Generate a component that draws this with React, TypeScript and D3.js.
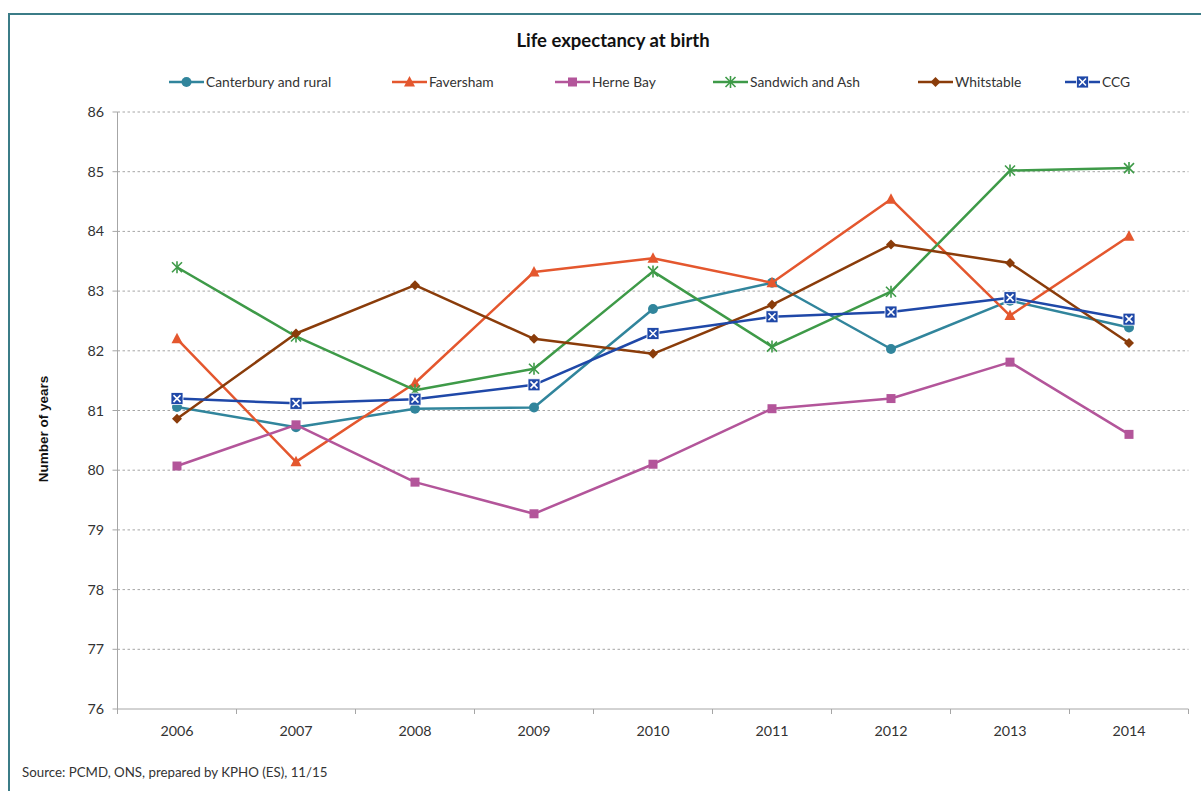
import React from "react";
import * as d3 from "d3";

const years = ["2006", "2007", "2008", "2009", "2010", "2011", "2012", "2013", "2014"];
const canterbury = [81.06, 80.72, 81.03, 81.05, 82.7, 83.14, 82.03, 82.84, 82.39];
const faversham = [82.2, 80.14, 81.46, 83.32, 83.55, 83.14, 84.54, 82.59, 83.92];
const herneBay = [80.07, 80.76, 79.8, 79.27, 80.1, 81.03, 81.2, 81.81, 80.6];
const sandwich = [83.4, 82.24, 81.34, 81.7, 83.33, 82.07, 82.99, 85.02, 85.06];
const whitstable = [80.86, 82.29, 83.1, 82.2, 81.95, 82.77, 83.78, 83.47, 82.13];
const ccg = [81.2, 81.12, 81.19, 81.43, 82.29, 82.57, 82.65, 82.89, 82.53];
const yTicks = [76, 77, 78, 79, 80, 81, 82, 83, 84, 85, 86];

const seriesNames = ["Canterbury and rural", "Faversham", "Herne Bay", "Sandwich and Ash", "Whitstable", "CCG"];
const seriesValues = [canterbury, faversham, herneBay, sandwich, whitstable, ccg];
const seriesColors = ["#31859C", "#E4572E", "#B3559A", "#3E9A48", "#8A3C0A", "#1F48A8"];
const seriesMarkers = ["circle", "triangle", "square", "star", "diamond", "xsquare"];
const legendX = [169, 392, 555, 713, 918, 1065];

const FONT = "Lato, 'Open Sans', sans-serif";

function Marker({ type, x, y, color }: { type: string; x: number; y: number; color: string }) {
  switch (type) {
    case "circle":
      return <circle cx={x} cy={y} r={5} fill={color} />;
    case "triangle":
      return <path d={`M${x},${y - 6}L${x + 5.5},${y + 4.5}L${x - 5.5},${y + 4.5}Z`} fill={color} />;
    case "square":
      return <rect x={x - 4.5} y={y - 4.5} width={9} height={9} fill={color} />;
    case "diamond":
      return <path d={`M${x},${y - 5}L${x + 5},${y}L${x},${y + 5}L${x - 5},${y}Z`} fill={color} />;
    case "star":
      return (
        <g stroke={color} strokeWidth={1.6}>
          <line x1={x - 5} y1={y - 5} x2={x + 5} y2={y + 5} />
          <line x1={x - 5} y1={y + 5} x2={x + 5} y2={y - 5} />
          <line x1={x} y1={y - 6} x2={x} y2={y + 6} />
        </g>
      );
    case "xsquare":
      return (
        <g>
          <rect x={x - 6} y={y - 6} width={12} height={12} fill={color} stroke="#fff" strokeWidth={0.8} />
          <line x1={x - 3.5} y1={y - 3.5} x2={x + 3.5} y2={y + 3.5} stroke="#fff" strokeWidth={1.6} />
          <line x1={x - 3.5} y1={y + 3.5} x2={x + 3.5} y2={y - 3.5} stroke="#fff" strokeWidth={1.6} />
        </g>
      );
    default:
      return null;
  }
}

export default function App() {
  const W = 1201;
  const H = 791;
  const left = 117.5;
  const right = 1188.5;
  const top = 112;
  const bottom = 709;

  const x = d3.scaleBand<string>().domain(years).range([left, right]).padding(0);
  const y = d3.scaleLinear().domain([76, 86]).range([bottom, top]);
  const cx = (yr: string) => (x(yr) as number) + x.bandwidth() / 2;
  const line = d3
    .line<number>()
    .x((_, i) => cx(years[i]))
    .y((d) => y(d));

  const boundaries = d3.range(years.length + 1).map((i) => left + i * x.bandwidth());

  return (
    <div style={{ position: "absolute", left: 0, top: 0 }}>
      <svg width={W} height={H} style={{ display: "block", background: "#fff" }}>
        <rect x={0} y={0} width={W} height={H} fill="#fff" />
        {/* border */}
        <line x1={9} y1={14} x2={W} y2={14} stroke="#3B7C87" strokeWidth={2} />
        <line x1={9} y1={13} x2={9} y2={H} stroke="#3B7C87" strokeWidth={2} />

        <text x={613} y={47} textAnchor="middle" fontFamily={FONT} fontWeight="bold" fontSize={18.5} fill="#111">
          Life expectancy at birth
        </text>

        {/* legend */}
        {seriesNames.map((name, i) => (
          <g key={name}>
            <line x1={legendX[i]} y1={82} x2={legendX[i] + 35} y2={82} stroke={seriesColors[i]} strokeWidth={2.5} />
            <Marker type={seriesMarkers[i]} x={legendX[i] + 17.5} y={82} color={seriesColors[i]} />
            <text x={legendX[i] + 37} y={87} fontFamily={FONT} fontSize={13.8} fill="#333">
              {name}
            </text>
          </g>
        ))}

        {/* gridlines */}
        {yTicks.filter((t) => t !== 76).map((t) => (
          <line key={t} x1={left} x2={right} y1={y(t)} y2={y(t)} stroke="#A6A6A6" strokeWidth={1} strokeDasharray="2.5,2.5" />
        ))}

        {/* axes */}
        <line x1={left} x2={left} y1={top} y2={bottom} stroke="#A6A6A6" strokeWidth={1} />
        <line x1={left} x2={right} y1={bottom} y2={bottom} stroke="#A6A6A6" strokeWidth={1} />
        {yTicks.map((t) => (
          <g key={t}>
            <line x1={left - 5} x2={left} y1={y(t)} y2={y(t)} stroke="#A6A6A6" />
            <text x={104} y={y(t) + 5} textAnchor="end" fontFamily={FONT} fontSize={14.3} fill="#333">
              {t}
            </text>
          </g>
        ))}
        {boundaries.map((b, i) => (
          <line key={i} x1={b} x2={b} y1={bottom} y2={bottom + 5} stroke="#A6A6A6" />
        ))}
        {years.map((yr) => (
          <text key={yr} x={cx(yr)} y={736} textAnchor="middle" fontFamily={FONT} fontSize={14.3} fill="#333">
            {yr}
          </text>
        ))}

        <text
          transform={`translate(48,${429}) rotate(-90)`}
          textAnchor="middle"
          fontFamily="'Liberation Sans', Arial, sans-serif"
          fontWeight="bold"
          fontSize={13.5}
          fill="#111"
        >
          Number of years
        </text>

        {/* series */}
        {seriesValues.map((vals, i) => (
          <g key={seriesNames[i]}>
            <path d={line(vals) as string} fill="none" stroke={seriesColors[i]} strokeWidth={2.5} strokeLinejoin="round" />
            {vals.map((v, j) => (
              <Marker key={j} type={seriesMarkers[i]} x={cx(years[j])} y={y(v)} color={seriesColors[i]} />
            ))}
          </g>
        ))}

        <text x={22} y={777} fontFamily={FONT} fontSize={13.3} fill="#333">
          Source: PCMD, ONS, prepared by KPHO (ES), 11/15
        </text>
      </svg>
    </div>
  );
}
